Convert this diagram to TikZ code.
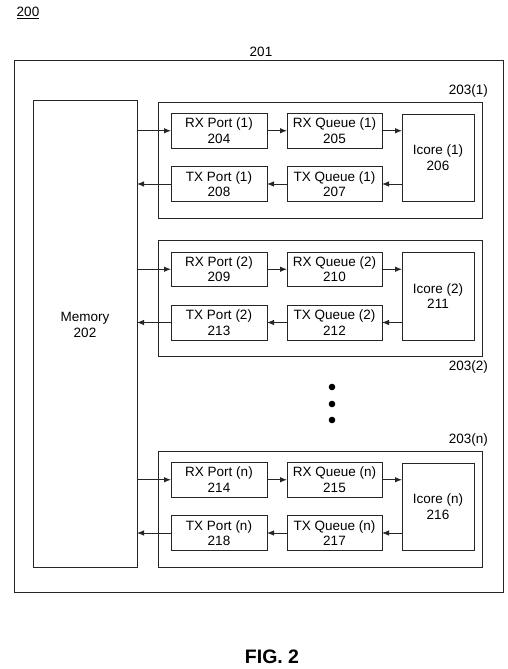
\documentclass[tikz,border=0pt]{standalone}
\usepackage{fontspec}
\setmainfont{Liberation Sans}
\usetikzlibrary{arrows.meta}
\begin{document}
\begin{tikzpicture}[x=1pt,y=-1pt,
  box/.style={draw=black!85,line width=0.85pt,inner sep=0pt,outer sep=0pt,align=center,font=\fontsize{13.5}{15.5}\selectfont},
  arr/.style={draw=black!85,line width=0.85pt,-{Latex[length=7pt,width=5.5pt]}},
  lbl/.style={font=\fontsize{13.5}{15.5}\selectfont,inner sep=0pt}]
\useasboundingbox (0,0) rectangle (508,669);
% outer box 201
\node[box,minimum width=489pt,minimum height=532pt] (sys) at (258.5,326) {};
\node[lbl] (l201) at (261,52) {201};
\node[lbl] (l200) at (28,13) {\underline{200}};
% memory
\node[box,minimum width=104pt,minimum height=467pt] (mem) at (85,333.5) {};
\node[lbl,align=center] (memtxt) at (85,325) {Memory\\202};
% groups
\foreach \g/\T/\n/\a/\b/\c/\d/\e in {1/102/1/204/205/206/207/208, 2/240.5/2/209/210/211/212/213, 3/451/n/214/215/216/217/218}{
  \node[box,minimum width=324pt,minimum height=116pt] (grp\g) at (320,{\T+58}) {};
  \node[box,minimum width=96pt,minimum height=34.5pt] (rxp\g) at (219,{\T+28.75}) {RX Port (\n)\\\a};
  \node[box,minimum width=95pt,minimum height=34.5pt] (rxq\g) at (334.5,{\T+28.75}) {RX Queue (\n)\\\b};
  \node[box,minimum width=72pt,minimum height=87.5pt] (ic\g) at (438,{\T+55.75}) {Icore (\n)\\\c};
  \node[box,minimum width=95pt,minimum height=35pt] (txq\g) at (334.5,{\T+82}) {TX Queue (\n)\\\d};
  \node[box,minimum width=96pt,minimum height=35pt] (txp\g) at (219,{\T+82}) {TX Port (\n)\\\e};
  \draw[arr] (rxp\g.west -| mem.east) -- (rxp\g.west);
  \draw[arr] (rxp\g.east) -- (rxq\g.west);
  \draw[arr] (rxq\g.east) -- (rxq\g.east -| ic\g.west);
  \draw[arr] (txq\g.east -| ic\g.west) -- (txq\g.east);
  \draw[arr] (txq\g.west) -- (txp\g.east);
  \draw[arr] (txp\g.west) -- (txp\g.west -| mem.east);
}
\node[lbl,anchor=east] (l2031) at ([xshift=6pt,yshift=11pt]grp1.north east) {203(1)};
\node[lbl,anchor=east] (l2032) at ([xshift=6pt,yshift=-11pt]grp2.south east) {203(2)};
\node[lbl,anchor=east] (l203n) at ([xshift=6pt,yshift=11pt]grp3.north east) {203(n)};
% dots
\fill[black] (332,387) circle (3.3pt) (332,404) circle (3.3pt) (332,420) circle (3.3pt);
% caption
\node[font=\bfseries\fontsize{19.5}{22}\selectfont] (fig) at (272,657) {FIG. 2};
\end{tikzpicture}
\end{document}
